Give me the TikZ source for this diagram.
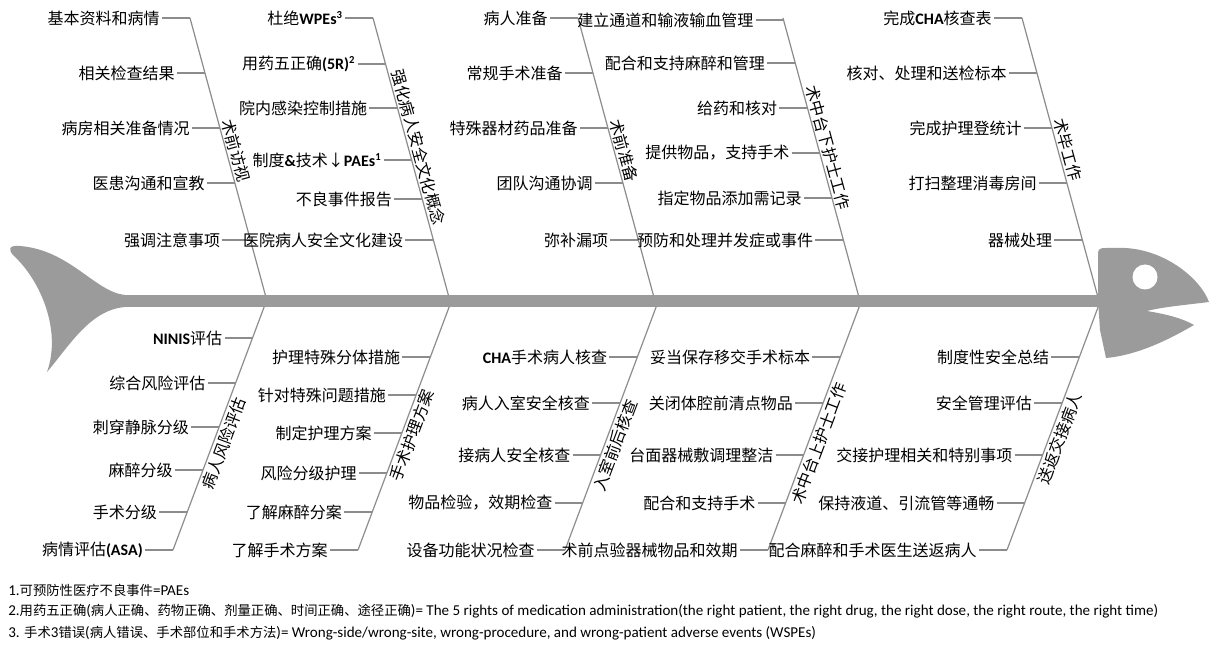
\documentclass[tikz,border=0pt]{standalone}
\usepackage{fontspec}
\setmainfont{Noto Sans CJK SC}
\newfontfamily\lat{Carlito}
\usetikzlibrary{calc}
\definecolor{fishgray}{RGB}{155,155,155}
\definecolor{bonegray}{RGB}{140,140,140}
\tikzset{
  item/.style={anchor=east, inner xsep=1.5pt, inner ysep=0pt, font=\fontsize{12}{12}\selectfont},
  rib/.style={draw=bonegray, line width=0.9pt},
  bone/.style={draw=bonegray, line width=0.9pt},
  toplabel/.style={rotate=-74.8, anchor=south, inner sep=1.5pt, font=\fontsize{12}{12}\selectfont},
  botlabel/.style={rotate=69.4, anchor=north, inner sep=2pt, font=\fontsize{12}{12}\selectfont},
  fish/.style={fill=fishgray, draw=none},
  note/.style={anchor=west, inner sep=0pt, font=\fontsize{10}{10}\selectfont}
}
\newcommand\ntl{\lat\fontsize{11.3}{10}\selectfont}
% top item: name, bone top x, y, text
\newcommand\TItem[4]{%
  \pgfmathsetmacro\bonex{#2+0.272*(#3-18)}%
  \coordinate (#1b) at (\bonex,#3);
  \node[item] (#1) at (\bonex-28,#3) {#4};
  \draw[rib] (#1.east) -- (#1b);
}
% bottom item: name, bone bottom x, y, text
\newcommand\BItem[4]{%
  \pgfmathsetmacro\bonex{#2+0.375*(550-#3)}%
  \coordinate (#1b) at (\bonex,#3);
  \node[item] (#1) at (\bonex-28,#3) {#4};
  \draw[rib] (#1.east) -- (#1b);
}
% label on a top bone: name, bone top x, y, text
\newcommand\TLabel[4]{%
  \node[toplabel] (#1) at ({#2+0.272*(#3-18)},#3) {#4};
}
% label on a bottom bone: name, bone bottom x, y, text
\newcommand\BLabel[4]{%
  \node[botlabel] (#1) at ({#2+0.375*(550-#3)},#3) {#4};
}
\begin{document}
\begin{tikzpicture}[x=0.75pt, y=-0.75pt]
\useasboundingbox (0,0) rectangle (1211,648);
\fill[white] (0,0) rectangle (1211,648);

% bones: top
\foreach \n/\t in {1/190, 2/373, 3/578, 4/783, 5/1022}{
  \coordinate (T\n t) at (\t,18);
  \coordinate (T\n s) at ({\t+0.272*283},301);
  \draw[bone] (T\n t) -- (T\n s);
}
% bones: bottom
\foreach \n/\b in {1/173, 2/358, 3/565, 4/768, 5/1007}{
  \coordinate (B\n b) at (\b,550);
  \coordinate (B\n s) at ({\b+0.375*249},301);
  \draw[bone] (B\n b) -- (B\n s);
}

% fish body
\fill[fish] (115,295) rectangle (1102,307);
\fill[fish] (125,295) .. controls (95,292) and (70,250) .. (20,246)
  .. controls (8,245) and (8,250) .. (14,256)
  .. controls (40,280) and (62,330) .. (47,372)
  .. controls (70,345) and (90,310) .. (125,307) -- cycle;
\fill[fish] (1098,300) -- (1098,254) .. controls (1098,249) and (1100,248) .. (1106,248)
  -- (1125,248)
  .. controls (1165,250) and (1200,278) .. (1209,302)
  .. controls (1185,305) and (1162,307) .. (1147,311)
  .. controls (1165,314) and (1182,318) .. (1194,325)
  .. controls (1168,340) and (1138,355) .. (1106,358)
  -- (1100,330) -- cycle;
\fill[white] (1145,277) circle (12.5);

% top bone 1
\TItem{a1}{190}{18}{基本资料和病情}
\TItem{a2}{190}{73}{相关检查结果}
\TItem{a3}{190}{128}{病房相关准备情况}
\TItem{a4}{190}{183}{医患沟通和宣教}
\TItem{a5}{190}{240}{强调注意事项}
\TLabel{L1}{190}{153}{术前访视}
% top bone 2
\TItem{b1}{373}{18}{杜绝{\lat\bfseries WPEs\textsuperscript{3}}}
\TItem{b2}{373}{64}{用药五正确{\lat\bfseries (5R)\textsuperscript{2}}}
\TItem{b3}{373}{108}{院内感染控制措施}
\TItem{b4}{373}{160}{制度{\lat\bfseries \&}技术↓{\lat\bfseries PAEs\textsuperscript{1}}}
\TItem{b5}{373}{199}{不良事件报告}
\TItem{b6}{373}{240}{医院病人安全文化建设}
\TLabel{L2}{373}{150}{强化病人安全文化概念}
% top bone 3
\TItem{c1}{578}{18}{病人准备}
\TItem{c2}{578}{73}{常规手术准备}
\TItem{c3}{578}{128}{特殊器材药品准备}
\TItem{c4}{578}{183}{团队沟通协调}
\TItem{c5}{578}{240}{弥补漏项}
\TLabel{L3}{578}{153}{术前准备}
% top bone 4
\TItem{d1}{783}{20}{建立通道和输液输血管理}
\TItem{d2}{783}{63}{配合和支持麻醉和管理}
\TItem{d3}{783}{108}{给药和核对}
\TItem{d4}{783}{153}{提供物品，支持手术}
\TItem{d5}{783}{198}{指定物品添加需记录}
\TItem{d6}{783}{240}{预防和处理并发症或事件}
\TLabel{L4}{783}{150}{术中台下护士工作}
% top bone 5
\TItem{e1}{1022}{18}{完成{\lat\bfseries CHA}核查表}
\TItem{e2}{1022}{73}{核对、处理和送检标本}
\TItem{e3}{1022}{128}{完成护理登统计}
\TItem{e4}{1022}{183}{打扫整理消毒房间}
\TItem{e5}{1022}{240}{器械处理}
\TLabel{L5}{1022}{152}{术毕工作}

% bottom bone 1
\BItem{f1}{173}{338}{{\lat\bfseries NINIS}评估}
\BItem{f2}{173}{383}{综合风险评估}
\BItem{f3}{173}{427}{刺穿静脉分级}
\BItem{f4}{173}{470}{麻醉分级}
\BItem{f5}{173}{512}{手术分级}
\BItem{f6}{173}{550}{病情评估{\lat\bfseries (ASA)}}
\BLabel{L6}{173}{440}{病人风险评估}
% bottom bone 2
\BItem{g1}{358}{357}{护理特殊分体措施}
\BItem{g2}{358}{395}{针对特殊问题措施}
\BItem{g3}{358}{433}{制定护理方案}
\BItem{g4}{358}{473}{风险分级护理}
\BItem{g5}{358}{512}{了解麻醉分案}
\BItem{g6}{358}{550}{了解手术方案}
\BLabel{L7}{358}{432}{手术护理方案}
% bottom bone 3
\BItem{h1}{565}{357}{{\lat\bfseries CHA}手术病人核查}
\BItem{h2}{565}{403}{病人入室安全核查}
\BItem{h3}{565}{455}{接病人安全核查}
\BItem{h4}{565}{503}{物品检验，效期检查}
\BItem{h5}{565}{550}{设备功能状况检查}
\BLabel{L8}{565}{442}{入室前后核查}
% bottom bone 4
\BItem{i1}{768}{357}{妥当保存移交手术标本}
\BItem{i2}{768}{403}{关闭体腔前清点物品}
\BItem{i3}{768}{455}{台面器械敷调理整洁}
\BItem{i4}{768}{503}{配合和支持手术}
\BItem{i5}{768}{550}{术前点验器械物品和效期}
\BLabel{L9}{768}{440}{术中台上护士工作}
% bottom bone 5
\BItem{j1}{1007}{357}{制度性安全总结}
\BItem{j2}{1007}{403}{安全管理评估}
\BItem{j3}{1007}{455}{交接护理相关和特别事项}
\BItem{j4}{1007}{503}{保持液道、引流管等通畅}
\BItem{j5}{1007}{550}{配合麻醉和手术医生送返病人}
\BLabel{L10}{1007}{435}{送返交接病人}

% footnotes
\node[note] (n1) at (8,590) {{\ntl 1.}可预防性医疗不良事件{\ntl =PAEs}};
\node[note] (n2) at (8,611) {{\ntl 2.}用药五正确{\ntl (}病人正确、药物正确、剂量正确、时间正确、途径正确{\ntl )= The 5 rights of medication administration(the right patient, the right drug, the right dose, the right route, the right time)}};
\node[note] (n3) at (8,633) {{\ntl 3. }手术{\ntl 3}错误{\ntl (}病人错误、手术部位和手术方法{\ntl )= Wrong-side/wrong-site, wrong-procedure, and wrong-patient adverse events (WSPEs)}};
\end{tikzpicture}
\end{document}
